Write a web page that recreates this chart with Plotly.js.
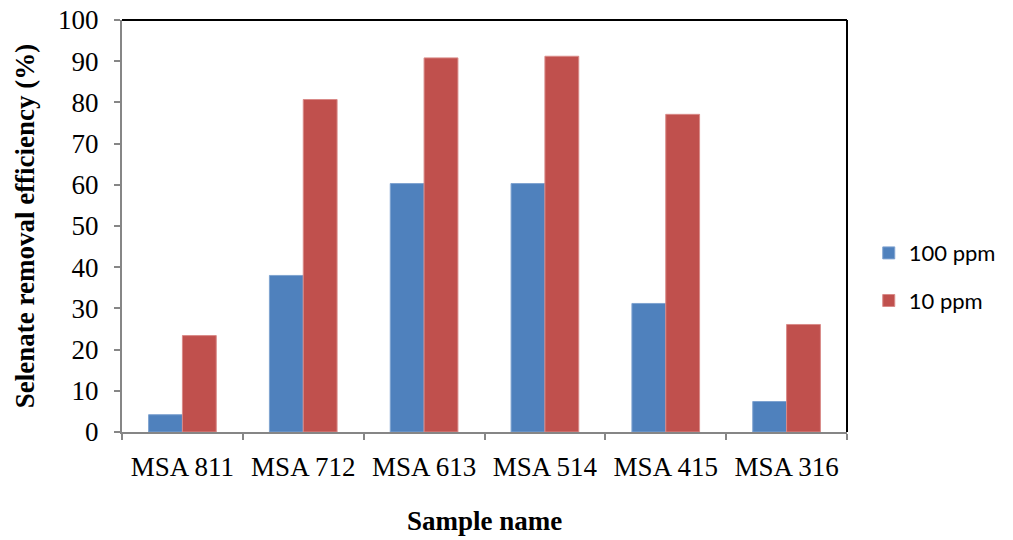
<!DOCTYPE html>
<html><head><meta charset="utf-8">
<script src="https://cdn.plot.ly/plotly-3.0.1.min.js"></script>
<style>body{margin:0;background:#fff}#chart{width:1013px;height:540px}</style>
</head><body><div id="chart"></div>
<script>
const categories = ["MSA 811","MSA 712","MSA 613","MSA 514","MSA 415","MSA 316"];
const seriesNames = ["100 ppm","10 ppm"];
const ppm100 = [4.2, 38.0, 60.3, 60.3, 31.2, 7.4];
const ppm10 = [23.4, 80.7, 90.8, 91.2, 77.1, 26.1];
const yTicks = [0,10,20,30,40,50,60,70,80,90,100];

const data = [
  {type:"bar", x:categories, y:ppm100, name:seriesNames[0], legendgroup:"a",
   marker:{color:"#4f81bd", line:{color:"#7fa3d0", width:1}}},
  {type:"bar", x:categories, y:ppm10, name:seriesNames[1], legendgroup:"b",
   marker:{color:"#c0504d", line:{color:"#d98a88", width:1}}}
];
const layout = {
  width:1013, height:540,
  margin:{l:122, r:166, t:19.5, b:108.3},
  paper_bgcolor:"#fff", plot_bgcolor:"#fff",
  barmode:"group", bargap:0.44, bargroupgap:0,
  font:{family:"Liberation Serif, Times New Roman, serif", color:"#000"},
  xaxis:{type:"category", tickson:"boundaries", ticks:"outside", ticklen:6, tickcolor:"#868686", tickwidth:2,
    ticklabelstandoff:10,
    showline:true, linecolor:"#868686", linewidth:2, showgrid:false, zeroline:false,
    tickfont:{size:27, family:"Liberation Serif, serif"},
    title:{text:"<b>Sample name</b>", font:{size:27, family:"Liberation Serif, serif"}, standoff:30}},
  yaxis:{range:[0,100], tickvals:yTicks, ticks:"outside", ticklen:6, tickcolor:"#868686", tickwidth:2,
    ticklabelstandoff:10,
    showline:true, linecolor:"#868686", linewidth:2, showgrid:false, zeroline:false,
    tickfont:{size:27, family:"Liberation Serif, serif"},
    title:{text:"<b>Selenate removal efficiency (%)</b>", font:{size:27, family:"Liberation Serif, serif"}, standoff:16}},
  legend:{x:1.03, y:0.376, xanchor:"left", yanchor:"middle", traceorder:"grouped", tracegroupgap:16,
    font:{size:22, family:"Lato, Open Sans, sans-serif"}, itemwidth:30},
  showlegend:true,
  shapes:[
    {type:"line", xref:"paper", yref:"paper", x0:0, x1:1, y0:1, y1:1, line:{color:"#000", width:2}},
    {type:"line", xref:"paper", yref:"paper", x0:1, x1:1, y0:0, y1:1, line:{color:"#000", width:2}}
  ]
};
Plotly.newPlot("chart", data, layout, {displayModeBar:false, staticPlot:true});
</script></body></html>
